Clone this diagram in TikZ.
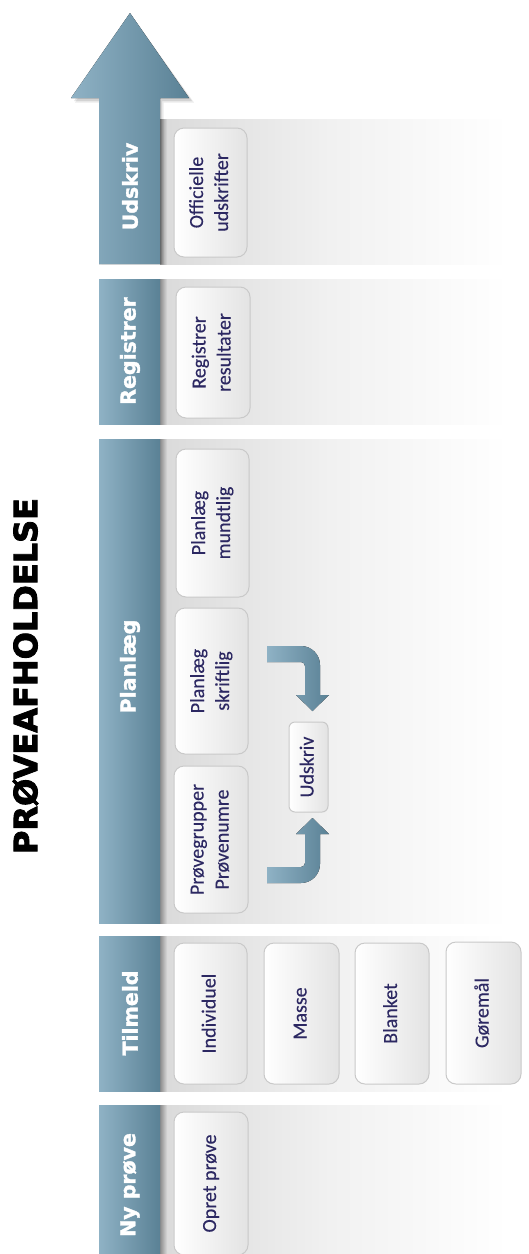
\documentclass[tikz,border=0pt]{standalone}
\usepackage{fontspec}
\setmainfont{Carlito}[UprightFeatures={FakeBold=0.18}]
\newfontfamily\hdfont{DejaVu Sans}[BoldFeatures={FakeBold=1.6}]
\newfontfamily\ttlfont{DejaVu Sans}[BoldFeatures={FakeBold=2.6}]
\definecolor{hdl}{HTML}{8FB2C5}
\definecolor{hdr}{HTML}{5A8195}
\definecolor{txt}{HTML}{2C2862}
\definecolor{bord}{HTML}{C9C9C9}
\definecolor{bgA}{HTML}{DADADA}
\definecolor{bgB}{HTML}{F1F1F1}
\definecolor{shd}{HTML}{8C8C8C}
\definecolor{boxg}{HTML}{E3E3E3}
\newcommand{\rtxt}[1]{\rotatebox{90}{\begin{tabular}{@{}c@{}}#1\end{tabular}}}
\begin{document}
\begin{tikzpicture}[x=1pt,y=-1pt,
  hdshade/.style={left color=hdl, right color=hdr},
  hdtext/.style={rotate=90, text=white, font=\hdfont\bfseries\fontsize{20.5}{24}\selectfont, inner sep=0pt},
  boxnode/.style={draw=bord, line width=1pt, rounded corners=10pt, left color=white, right color=boxg,
    text=txt, font=\fontsize{20}{25}\selectfont, inner sep=0pt, align=center},
  curvearrow/.style={left color=hdl, right color=hdr}
]
\useasboundingbox (0,0) rectangle (528,1254);
\clip (0,0) rectangle (528,1254);
\fill[white] (0,0) rectangle (528,1254);

% band backgrounds
\foreach \t/\b in {119/264, 279/424.5, 439/923, 936/1091, 1105/1258} {
  \fill[left color=bgA, right color=bgB] (160,\t) rectangle (330,\b);
  \fill[left color=bgB, right color=white] (330,\t) rectangle (508,\b);
  \fill[left color=shd, right color=bgA] (160,\t) rectangle (167,\b);
}
% headers
\foreach \t/\b in {279/424.5, 439/923, 936/1091, 1105/1258} {
  \fill[hdshade] (99,\t) rectangle (160,\b);
}
% big arrow with soft shadow
\fill[black, opacity=0.10] (162,264) -- (162,101) -- (192,101) -- (132,16) -- (74,101) -- (101,101) -- (101,264) -- cycle;
\fill[black, opacity=0.08] (163.5,264) -- (163.5,102.5) -- (194,102.5) -- (133,17.5) -- (75,102.5) -- (102,102.5) -- (102,264) -- cycle;
\fill[hdshade] (99,264) -- (99,98) -- (71,98) -- (130,13) -- (189,98) -- (160,98) -- (160,264) -- cycle;

% title
\node[rotate=90, font=\ttlfont\bfseries\fontsize{32}{36}\selectfont, inner sep=0pt] (title) at (25.5,676) {PRØVEAFHOLDELSE};

% header labels
\node[hdtext] (hUdskriv) at (130,186.5) {Udskriv};
\node[hdtext] (hRegistrer) at (130,351) {Registrer};
\node[hdtext] (hPlanlaeg) at (130,666.5) {Planlæg};
\node[hdtext] (hTilmeld) at (130,1013) {Tilmeld};
\node[hdtext] (hNyProeve) at (130,1185) {Ny prøve};

% boxes
\node[boxnode, minimum width=73pt, minimum height=129pt] (officielle) at (210.5,192.5) {\rtxt{Officielle\\udskrifter}};
\node[boxnode, minimum width=74pt, minimum height=131pt] (registrer) at (213,352.5) {\rtxt{Registrer\\resultater}};
\node[boxnode, minimum width=73pt, minimum height=148pt] (mundtlig) at (212.5,523) {\rtxt{Planlæg\\mundtlig}};
\node[boxnode, minimum width=73pt, minimum height=146pt] (skriftlig) at (211.5,681) {\rtxt{Planlæg\\skriftlig}};
\node[boxnode, minimum width=74pt, minimum height=147pt] (grupper) at (211,839.5) {\rtxt{Prøvegrupper\\Prøvenumre}};
\node[boxnode, rounded corners=6pt, minimum width=39pt, minimum height=90pt] (udskriv) at (308.5,767) {\rtxt{Udskriv}};
\node[boxnode, minimum width=73pt, minimum height=141pt] (individuel) at (210.5,1013.5) {\rtxt{Individuel}};
\node[boxnode, minimum width=75pt, minimum height=141pt] (masse) at (301.5,1013.5) {\rtxt{Masse}};
\node[boxnode, minimum width=74pt, minimum height=141pt] (blanket) at (392,1013.5) {\rtxt{Blanket}};
\node[boxnode, minimum width=75pt, minimum height=142pt] (goremaal) at (483.5,1013) {\rtxt{Gøremål}};
\node[boxnode, minimum width=74pt, minimum height=143pt] (opret) at (211,1183.5) {\rtxt{Opret prøve}};

% curved arrows towards the small Udskriv box
\fill[curvearrow] (267,646) -- (301,646) .. controls (311.5,646) and (320,654.5) .. (320,665)
  -- (320,695) -- (329,695) -- (312.5,711) -- (296,695) -- (305,695) -- (305,666)
  .. controls (305,663.8) and (303.2,662) .. (301,662) -- (267,662) -- cycle;
\fill[curvearrow] (267,883) -- (301,883) .. controls (311.5,883) and (320,874.5) .. (320,864)
  -- (320,834) -- (329,834) -- (312.5,818) -- (296,834) -- (305,834) -- (305,863)
  .. controls (305,865.2) and (303.2,867) .. (301,867) -- (267,867) -- cycle;
\end{tikzpicture}
\end{document}
